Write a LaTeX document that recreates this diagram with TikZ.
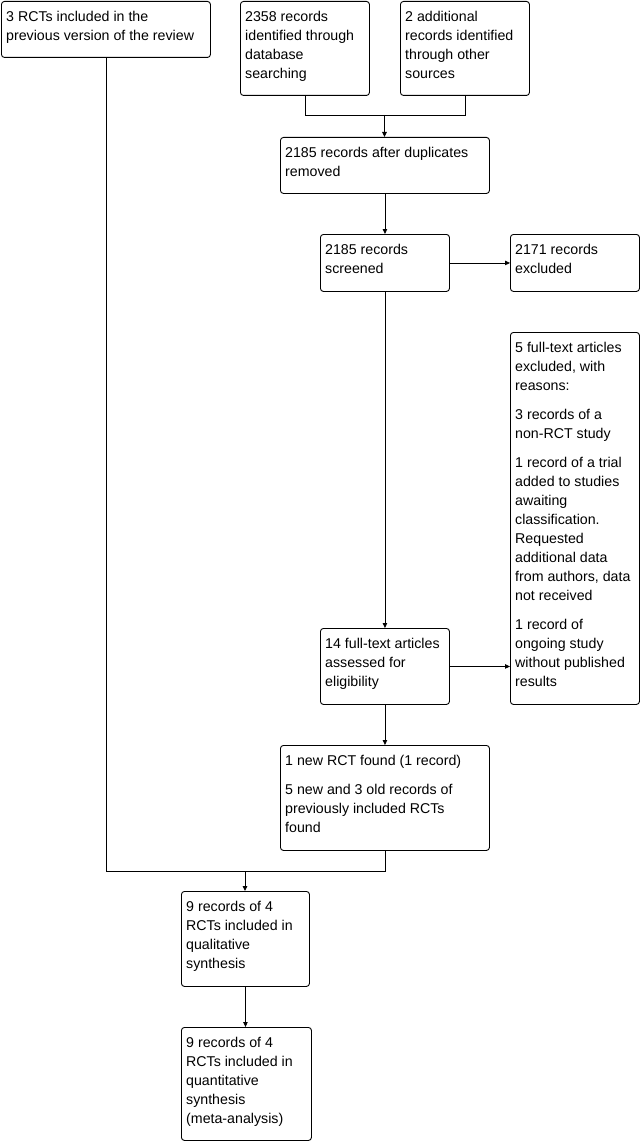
\documentclass[tikz,border=0pt]{standalone}
\usepackage{fontspec}
\setmainfont{Liberation Sans}
\usetikzlibrary{arrows.meta}
\begin{document}
\begin{tikzpicture}[x=1pt,y=-1pt,
  box/.style={draw=black,line width=0.9pt,rounded corners=3pt,inner sep=0pt,anchor=north west},
  txt/.style={anchor=north west,inner sep=0pt,align=left,font=\fontsize{14.2}{19}\selectfont},
  conn/.style={line width=0.9pt},
  arr/.style={line width=0.9pt,-{Triangle[length=5pt,width=4.5pt]}}]
\useasboundingbox (0,0) rectangle (642,1142);
\newcommand{\bx}[6]{%
  \node[box,minimum width=#4-#2,minimum height=#5-#3] (#1) at (#2,#3) {};
  \node[txt] (t#1) at (#2+5,#3+10) {#6};}
\bx{A}{1}{1}{210}{57}{3 RCTs included in the\\previous version of the review}
\bx{B}{240}{1}{369}{95}{2358 records\\identified through\\database\\searching}
\bx{C}{400}{1}{529}{95}{2 additional\\records identified\\through other\\sources}
\bx{D}{280}{137}{489}{193}{2185 records after duplicates\\removed}
\bx{E}{320}{234}{449}{291}{2185 records\\screened}
\bx{F}{510}{234}{639}{291}{2171 records\\excluded}
\bx{G}{510}{332}{639}{704}{5 full-text articles\\excluded, with\\reasons:\\[10pt]3 records of a\\non-RCT study\\[10pt]1 record of a trial\\added to studies\\awaiting\\classification.\\Requested\\additional data\\from authors, data\\not received\\[10pt]1 record of\\ongoing study\\without published\\results}
\bx{H}{320}{628}{449}{704}{14 full-text articles\\assessed for\\eligibility}
\bx{I}{280}{745}{489}{850}{1 new RCT found (1 record)\\[10pt]5 new and 3 old records of\\previously included RCTs\\found}
\bx{J}{181}{891}{309}{986}{9 records of 4\\RCTs included in\\qualitative\\synthesis}
\bx{K}{181}{1027}{311}{1140}{9 records of 4\\RCTs included in\\quantitative\\synthesis\\(meta-analysis)}
\coordinate (m1) at (384.5,115);
\coordinate (m2) at (245,871);
\draw[conn] (B.south) |- (m1);
\draw[conn] (C.south) |- (m1);
\draw[arr] (m1) -- (m1 |- D.north);
\draw[arr] (D.south) -- (D.south |- E.north);
\draw[arr] (E.east) -- (F.west);
\draw[arr] (E.south) -- (E.south |- H.north);
\draw[arr] (H.east) -- (H.east -| G.west);
\draw[arr] (H.south) -- (H.south |- I.north);
\draw[conn] (I.south) |- (m2);
\draw[conn] (A.south) |- (m2);
\draw[arr] (m2) -- (m2 |- J.north);
\draw[arr] (J.south) -- (J.south |- K.north);
\end{tikzpicture}
\end{document}
